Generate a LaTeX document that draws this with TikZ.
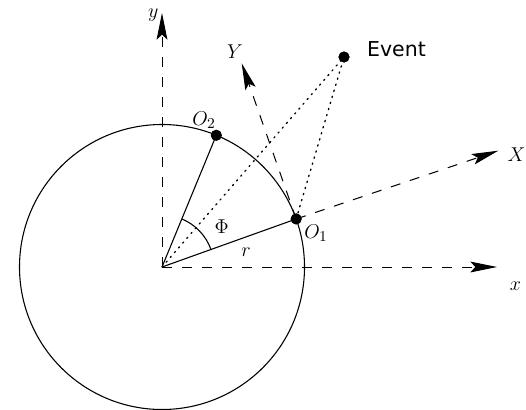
\documentclass[tikz,border=0pt]{standalone}
\usepackage{fontspec}
\newfontfamily\evfont{DejaVu Sans}
\usetikzlibrary{arrows.meta}
\begin{document}
\begin{tikzpicture}[x=0.6pt,y=0.6pt,
  ln/.style={line width=0.65pt},
  dsh/.style={line width=0.6pt,dash pattern=on 6pt off 6pt,-{Stealth[length=16pt,width=6.5pt,inset=3pt]}},
  dot/.style={line width=0.8pt,dash pattern=on 0.8pt off 3pt,line cap=round},
  pt/.style={circle,fill=black,inner sep=0pt,minimum size=6.6pt},
  lab/.style={font=\fontsize{12.5}{14}\selectfont,inner sep=0pt}]
\useasboundingbox (0,0) rectangle (526,409);
\coordinate (C) at (162,142);
\node[pt] (O1) at ([shift={(19.7:85.5pt)}]C) {};
\node[pt] (O2) at ([shift={(67.6:85.5pt)}]C) {};
\node[pt] (E) at (344,352) {};
\coordinate (xt) at (497,142);
\coordinate (yt) at (162,396);
\coordinate (Xt) at (498.3,258.3);
\coordinate (Yt) at (241.7,345.7);
% circle
\draw[ln] (C) circle[radius=85.5pt];
% axes
\draw[dsh] (C) -- (xt);
\draw[dsh] (C) -- (yt);
\draw[dsh] (O1.center) -- (Xt);
\draw[dsh] (O1.center) -- (Yt);
% dotted
\draw[dot] (C) -- (E.center);
\draw[dot] (O1.center) -- (E.center);
% radii
\draw[ln] (C) -- (O1.center);
\draw[ln] (C) -- (O2.center);
% angle
\draw[ln] ([shift={(19.7:31.2pt)}]C) arc[start angle=19.7,end angle=67.6,radius=31.2pt];
% redraw dots on top
\node[pt] at (O1) {};
\node[pt] at (O2) {};
\node[pt] at (E) {};
% labels
\node[lab] (lx) at (515.5,122.5) {$x$};
\node[lab] (lX) at (516.5,254.5) {$X$};
\node[lab] (ly) at (153.3,394) {$y$};
\node[lab] (lY) at (235,357.3) {$Y$};
\node[lab] (lO1) at (316,176) {$O_1$};
\node[lab] (lO2) at (204,289) {$O_2$};
\node[lab] (lphi) at (221.7,182.3) {$\Phi$};
\node[lab] (lr) at (246,157.3) {$r$};
\node[inner sep=0pt,font=\evfont\fontsize{12.3}{14}\selectfont] (lE) at (396.5,360) {Event};
\end{tikzpicture}
\end{document}
